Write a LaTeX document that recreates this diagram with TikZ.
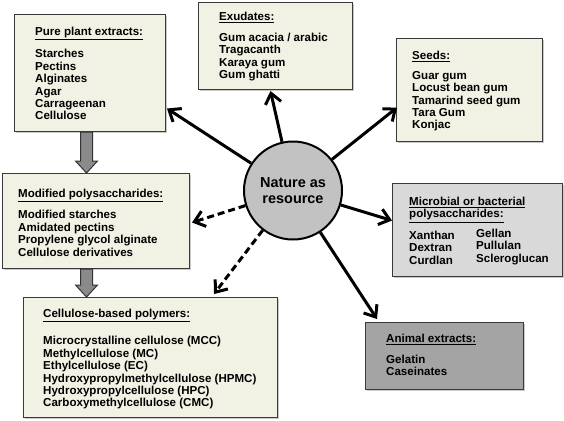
\documentclass[tikz,border=0pt]{standalone}
\usepackage{fontspec}
\setmainfont{Liberation Sans}
\usetikzlibrary{calc,arrows.meta,shadows}
\definecolor{beige}{HTML}{F1F1E4}
\definecolor{micro}{HTML}{D9D9D9}
\definecolor{animal}{HTML}{A4A4A4}
\definecolor{circ}{HTML}{C2C2C2}
\definecolor{edge}{HTML}{3A3A3A}
\definecolor{block}{HTML}{8A8A8A}
\tikzset{
  box/.style={draw=edge, line width=1bp, anchor=north west, inner sep=0pt,
    drop shadow={shadow xshift=1.5bp, shadow yshift=-1.5bp, opacity=0.35, fill=black!60}},
  txt/.style={anchor=north west, inner sep=0pt, align=left,
    font=\bfseries\fontsize{11.6}{12.4}\selectfont},
  ray/.style={line width=3bp, -{Straight Barb[length=10bp,width=16bp]}},
  dray/.style={ray, dash pattern=on 7bp off 4bp},
  blockarrow/.style={fill=block, draw=black!80, line width=1bp, line join=miter}
}
\begin{document}
\begin{tikzpicture}[x=1bp,y=-1bp]
\useasboundingbox (0,0) rectangle (564,420);
% boxes
\node[box, fill=beige, minimum width=151bp, minimum height=117bp] (pp) at (14,14) {};
\node[box, fill=beige, minimum width=154bp, minimum height=87bp] (ex) at (198,2) {};
\node[box, fill=beige, minimum width=146bp, minimum height=103bp] (sd) at (396,38) {};
\node[box, fill=micro, minimum width=170bp, minimum height=93bp] (mic) at (392,183) {};
\node[box, fill=animal, minimum width=158bp, minimum height=67bp] (ani) at (365,322) {};
\node[box, fill=beige, minimum width=187bp, minimum height=95bp] (mod) at (2,173) {};
\node[box, fill=beige, minimum width=254bp, minimum height=120bp] (cell) at (23,297) {};
% texts
\node[txt] (tpp) at (35,27) {\underline{Pure plant extracts:}\\[8.6bp]Starches\\Pectins\\Alginates\\Agar\\Carrageenan\\Cellulose};
\node[txt] (tex) at (219,12) {\underline{Exudates:}\\[8.6bp]Gum acacia / arabic\\Tragacanth\\Karaya gum\\Gum ghatti};
\node[txt] (tsd) at (412,51) {\underline{Seeds:}\\[7.6bp]Guar gum\\Locust bean gum\\Tamarind seed gum\\Tara Gum\\Konjac};
\node[txt] (tmic) at (409,197) {\underline{Microbial or bacterial}\\\underline{polysaccharides:}\\[7.6bp]Xanthan\\Dextran\\Curdlan};
\node[txt] (tmic2) at (476,229) {Gellan\\Pullulan\\Scleroglucan};
\node[txt] (tani) at (386,334) {\underline{Animal extracts:}\\[8.6bp]Gelatin\\Caseinates};
\node[txt] (tmod) at (18,189) {\underline{Modified polysaccharides:}\\[7.6bp]Modified starches\\Amidated pectins\\Propylene glycol alginate\\Cellulose derivatives};
\node[txt] (tcell) at (43,309) {\underline{Cellulose-based polymers:}\\[13.6bp]Microcrystalline cellulose (MCC)\\Methylcellulose (MC)\\Ethylcellulose (EC)\\Hydroxypropylmethylcellulose (HPMC)\\Hydroxypropylcellulose (HPC)\\Carboxymethylcellulose (CMC)};
% centre
\node[circle, draw=black, line width=2bp, fill=circ, minimum size=98bp, inner sep=0pt,
      align=center, font=\bfseries\fontsize{14.5}{16}\selectfont] (c) at (293,190.5) {Nature as\\resource};
% rays
\draw[ray] (c) -- ($(pp.east)+(1,35.5)$);
\draw[ray] (c) -- ($(ex.south)+(-5,1)$);
\draw[ray] (c) -- ($(sd.west)+(1,17.5)$);
\draw[ray] (c) -- ($(mic.west)+(0,-9.5)$);
\draw[ray] (c) -- ($(ani.north west)+(12,-3)$);
\draw[dray] (c) -- ($(mod.east)+(2,1.5)$);
\draw[dray] (c) -- ($(cell.north east)+(-64,-3)$);
% block arrows
\draw[blockarrow] let \p1=($(pp.south)+(-3.5,0)$), \p2=($(mod.north)+(-9.5,0)$) in
  (\x1-6bp,\y1) -- (\x1-6bp,\y2+12bp) -- (\x1-11bp,\y2+12bp) -- (\x1,\y2) -- (\x1+11bp,\y2+12bp) -- (\x1+6bp,\y2+12bp) -- (\x1+6bp,\y1) -- cycle;
\draw[blockarrow] let \p1=($(mod.south)+(-9.5,0)$), \p2=($(cell.north)+(-64,0)$) in
  (\x1-6bp,\y1) -- (\x1-6bp,\y2+12bp) -- (\x1-11bp,\y2+12bp) -- (\x1,\y2) -- (\x1+11bp,\y2+12bp) -- (\x1+6bp,\y2+12bp) -- (\x1+6bp,\y1) -- cycle;
\end{tikzpicture}
\end{document}
